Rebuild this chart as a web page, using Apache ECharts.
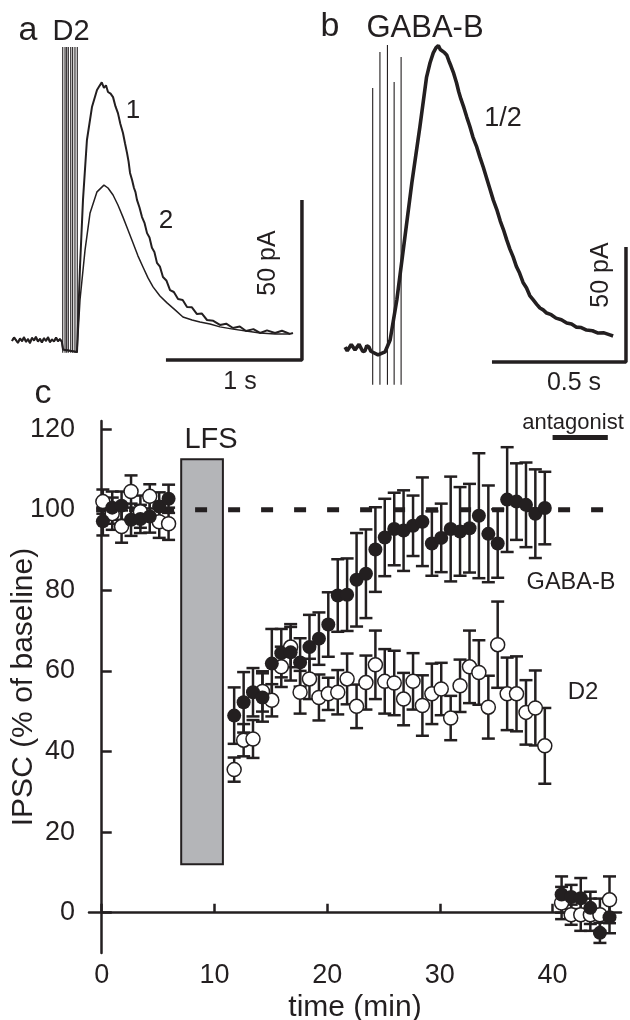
<!DOCTYPE html>
<html>
<head>
<meta charset="utf-8">
<script src="https://cdn.jsdelivr.net/npm/echarts@6/dist/echarts.min.js"></script>
<style>
html,body{margin:0;padding:0;background:#fff;}
#chart{width:630px;height:1020px;}
</style>
</head>
<body>
<div id="chart"></div>
<script>
// ---------- Panel a (D2): time (ms, stim at 0) / current (pA) ----------
const traceABaseline = [[-375,-0.3],[-360,0.8],[-346,0.2],[-331,-0.9],[-316,0.5],[-301,-0.4],[-287,0.9],[-272,-0.6],[-257,0.3],[-243,-1.0],[-228,0.7],[-213,-0.2],[-199,1.0],[-184,-0.5],[-169,0.4],[-155,-0.8],[-140,0.6],[-125,-0.3],[-110,0.9],[-96,-0.7],[-81,0.2],[-66,-0.5],[-51,0.8],[-37,-0.4],[-22,0.3],[-8,-0.6],[0,-3]];
const traceA1 = [[103,-3.75],[125,22.8],[147,43.8],[176,62.5],[213,72.8],[250,78.1],[270,79.5],[285,80.5],[301,78.8],[316,79.6],[331,77.5],[350,77.0],[368,75.9],[386,73.0],[404,70.9],[422,67.5],[441,64.7],[456,61.5],[471,58.4],[482,55.8],[493,52.2],[508,50.0],[522,47.5],[533,46.2],[544,43.8],[562,41.5],[581,38.4],[600,36.5],[618,33.4],[636,32.0],[654,28.8],[672,27.5],[691,24.1],[713,22.9],[735,19.7],[760,18.6],[787,15.6],[815,15.0],[846,12.8],[880,12.5],[912,10.3],[948,10.2],[985,8.1],[1020,8.3],[1059,6.25],[1105,6.0],[1154,4.7],[1200,5.1],[1250,3.75],[1300,4.2],[1346,2.8],[1400,3.4],[1449,2.2],[1500,3.0],[1559,2.2],[1610,2.9],[1669,1.9],[1691,2.2]];
const traceA2 = [[103,-3.75],[125,12.5],[162,28.1],[199,39.7],[250,46.3],[301,48.4],[331,47.5],[368,45.3],[404,42.2],[441,38.4],[478,34.4],[515,30.3],[551,26.3],[588,22.8],[625,19.4],[662,16.6],[713,13.75],[765,11.6],[824,9.4],[882,7.2],[949,6.25],[1007,5.6],[1081,5.0],[1154,4.1],[1250,3.4],[1346,2.8],[1449,2.2],[1559,1.9],[1669,1.9]];
const artifactATimes = [-2,15,27,39,57,71,88,105];
const artifactATop = 91.6, artifactABottom = -4;
const scaleA = [[1757,43.75],[1757,-6.25],[757,-6.25]];   // 50 pA, 1 s

// ---------- Panel b (GABA-B) ----------
const traceB = [[-103,0.4],[-95,-1.2],[-88,-0.9],[-80,1.5],[-73,1.3],[-66,-0.8],[-59,-0.4],[-51,1.6],[-44,0.9],[-37,-1.5],[-29,-1.3],[-22,1.0],[-14,0.4],[-7,-1.4],[-3,-0.9],[20,-3.0],[46,-1.7],[65,3.5],[90,20.9],[114,42.6],[146,71.7],[176,96.1],[201,117.8],[214,124.0],[226,128.3],[236,130.5],[245,131.5],[252,129.8],[259,130.6],[268,128.4],[276,127.4],[284,124.9],[292,122.6],[302,119.5],[313,115.2],[321,111.4],[329,108.3],[340,104.6],[351,100.4],[362,96.5],[374,91.7],[387,87.8],[400,83.0],[413,78.5],[426,73.5],[438,68.9],[450,64.3],[463,60.2],[476,55.2],[488,51.4],[500,47.0],[512,43.0],[524,39.6],[536,35.5],[548,32.6],[561,28.5],[574,26.1],[586,22.8],[599,20.9],[612,19.0],[624,17.4],[636,16.6],[649,15.2],[666,14.5],[684,13.0],[704,12.3],[724,10.9],[742,10.4],[759,9.1],[778,8.9],[798,7.8],[820,7.5],[841,6.5],[863,6.6],[885,5.7],[897,5.2]];
const artifactBTimes = [0,27,55,80,106];
const artifactBTops = [113,128.7,131.7,115.7,126.5];
const artifactBBottom = -16;
const scaleB = [[945,43.9],[945,-6.1],[445,-6.1]];   // 50 pA, 0.5 s

// ---------- Panel c: IPSC (% of baseline) vs time (min) ----------
const baseTimes = [0.1,0.93,1.76,2.6,3.43,4.26,5.1,5.93];
const gabaBase = [97.1,100.5,101.0,97.5,97.7,98.3,100.8,102.7];
const gabaBaseErr = [3.5,4,3.5,4,3.5,4,3.5,3.5];
const d2Base = [102.0,99.0,95.8,104.5,99.5,103.3,97.0,96.5];
const d2BaseErr = [3,4,4,4,4,3,4,4];

const postTimes = [11.75,12.59,13.42,14.26,15.09,15.93,16.76,17.6,18.43,19.27,20.1,20.94,21.77,22.61,23.44,24.28,25.11,25.95,26.78,27.62,28.45,29.29,30.12,30.96,31.79,32.63,33.46,34.3,35.13,35.97,36.8,37.64,38.47,39.31];
const gabaPost = [48.9,52.2,54.7,53.4,61.8,64.4,64.6,62.1,65.9,68.0,71.5,78.7,78.9,82.6,84.1,90.1,93.1,95.2,94.8,96.0,97.0,91.6,93.0,95.2,94.6,95.4,98.5,94.0,91.6,102.5,102.0,101.2,99.0,100.4];
const gabaPostErr = [7,7.5,6,6,8.6,6,7,6,8,6.5,8,9,9,11.6,11,10.5,9.6,9,10,7.5,11,8,8.5,13,11,11,15.5,12,8.5,13,9.5,10.5,11,9];
const d2Post = [35.5,42.8,43.1,54.9,52.7,61.0,65.9,54.7,58.0,53.4,54.3,54.7,58.0,51.2,57.1,61.5,57.4,57.0,53.0,57.4,51.4,54.3,55.5,48.3,56.3,61.0,59.6,51.0,66.5,54.3,54.3,49.7,50.8,41.4];
const d2PostErr = [3,4,4.7,5,4,5,5,5.3,5,5.7,4,5.5,6.3,5.4,6.7,8.5,8,8,6.5,7,7.5,7.5,6.5,5.5,6.5,9,8,7.8,10.7,9,9.3,8,9.3,9.4];

const recTimes = [40.8,41.65,42.5,43.35,44.2,45.05];
const gabaRec = [4.5,3.9,3.6,1.2,-5.0,-1.1];
const gabaRecErr = [4.5,3,5,4,2.5,4];
const d2Rec = [2.4,-0.5,-0.5,-0.5,-0.5,3.2];
const d2RecErr = [4,2.5,4,4,4,5.8];

const xTicks = [0,10,20,30,40];
const yTicks = [0,20,40,60,80,100,120];
const lfsWindow = [7.05,10.75], lfsRange = [12,112.5];
const baselineLevel = 100, baselineSpan = [-0.5,44.7];
const antagonistWindow = [40,44.9], antagonistLevel = 117.9;

// ---------- build ----------
const INK = '#231f20';
const FONT = '"Liberation Sans", Arial, Helvetica, sans-serif';
const allT = baseTimes.concat(postTimes, recTimes);
const gabaV = gabaBase.concat(gabaPost, gabaRec);
const gabaE = gabaBaseErr.concat(gabaPostErr, gabaRecErr);
const d2V = d2Base.concat(d2Post, d2Rec);
const d2E = d2BaseErr.concat(d2PostErr, d2RecErr);
const gabaData = allT.map((t,i)=>[t,gabaV[i],gabaE[i]]);
const d2Data = allT.map((t,i)=>[t,d2V[i],d2E[i]]);

function errRender(params, api){
  const x = api.value(0), y = api.value(1), e = api.value(2);
  const top = api.coord([x, y+e]), bot = api.coord([x, y-e]);
  const hw = 6.5, st = {stroke: INK, lineWidth: 2.5};
  return {type:'group', children:[
    {type:'line', shape:{x1:top[0],y1:top[1],x2:bot[0],y2:bot[1]}, style:st},
    {type:'line', shape:{x1:top[0]-hw,y1:top[1],x2:top[0]+hw,y2:top[1]}, style:st},
    {type:'line', shape:{x1:bot[0]-hw,y1:bot[1],x2:bot[0]+hw,y2:bot[1]}, style:st}
  ]};
}
function artRender(params, api){
  const x = api.value(0);
  const a = api.coord([x, api.value(1)]), b = api.coord([x, api.value(2)]);
  return {type:'line', shape:{x1:a[0],y1:a[1],x2:b[0],y2:b[1]}, style:{stroke:INK, lineWidth:1.1}};
}
function rectRender(params, api){
  const p1 = api.coord([api.value(0), api.value(3)]);
  const p2 = api.coord([api.value(1), api.value(2)]);
  return {type:'rect', shape:{x:p1[0], y:p1[1], width:p2[0]-p1[0], height:p2[1]-p1[1]},
    style:{fill:'#b4b5b8', stroke:INK, lineWidth:2}};
}
const hiddenAxis = (min,max,gi)=>({type:'value', gridIndex:gi, min, max, show:false, splitLine:{show:false}});
const lineS = (data, xi, w, extra)=>Object.assign({type:'line', xAxisIndex:xi, yAxisIndex:xi, data, symbol:'none',
  lineStyle:{color:INK, width:w}, silent:true, animation:false}, extra||{});

const chart = echarts.init(document.getElementById('chart'), null, {renderer:'canvas'});
const txt = (text, x, y, size, extra)=>Object.assign({type:'text', x, y,
  style:{text, font: size+'px '+FONT, fill: INK, textAlign:'center', textVerticalAlign:'middle'}}, extra||{});

chart.setOption({
  animation:false,
  backgroundColor:'#fff',
  grid:[
    {left:0, top:0, width:310, height:400, containLabel:false, outerBoundsMode:'none'},
    {left:320, top:0, width:310, height:400, containLabel:false, outerBoundsMode:'none'},
    {left:89, top:421, width:532, height:532, containLabel:false, outerBoundsMode:'none'}
  ],
  xAxis:[
    hiddenAxis(-463.2,1816.2,0),
    hiddenAxis(-196.6,960.0,1),
    {type:'value', gridIndex:2, min:-1.13, max:46.07, splitLine:{show:false},
     axisLine:{lineStyle:{color:INK, width:2.5}},
     axisTick:{inside:true, length:9, lineStyle:{color:INK, width:2.5}, customValues:xTicks},
     axisLabel:{customValues:xTicks, color:INK, fontSize:27, fontFamily:FONT, margin:9},
     name:'time (min)', nameLocation:'middle', nameGap:40, nameMoveOverlap:false,
     nameTextStyle:{color:INK, fontSize:30, fontFamily:FONT}}
  ],
  yAxis:[
    hiddenAxis(-18.75,106.25,0),
    hiddenAxis(-22.6,151.3,1),
    {type:'value', gridIndex:2, min:-10, max:122, splitLine:{show:false},
     axisLine:{lineStyle:{color:INK, width:2.5}},
     axisTick:{inside:true, length:10, lineStyle:{color:INK, width:2.5}, customValues:yTicks},
     axisLabel:{customValues:yTicks, color:INK, fontSize:27, fontFamily:FONT, margin:14},
     name:'IPSC (% of baseline)', nameLocation:'middle', nameGap:50, nameRotate:90, nameMoveOverlap:false,
     nameTextStyle:{color:INK, fontSize:30, fontFamily:FONT}}
  ],
  series:[
    // panel a
    lineS(traceABaseline.concat(traceA2), 0, 1.5),
    lineS(traceABaseline.concat(traceA1), 0, 2),
    {type:'custom', xAxisIndex:0, yAxisIndex:0, renderItem:artRender, silent:true,
     data: artifactATimes.map(t=>[t, artifactATop, artifactABottom]), encode:{x:0,y:[1,2]}},
    lineS(scaleA, 0, 3.5),
    // panel b
    lineS(traceB, 1, 3.6),
    {type:'custom', xAxisIndex:1, yAxisIndex:1, renderItem:artRender, silent:true,
     data: artifactBTimes.map((t,i)=>[t, artifactBTops[i], artifactBBottom]), encode:{x:0,y:[1,2]}},
    lineS(scaleB, 1, 3.5),
    // panel c
    {type:'custom', xAxisIndex:2, yAxisIndex:2, renderItem:rectRender, silent:true, z:1,
     data:[[lfsWindow[0], lfsWindow[1], lfsRange[0], lfsRange[1]]], encode:{x:[0,1], y:[2,3]}},
    lineS([[baselineSpan[0],baselineLevel],[baselineSpan[1],baselineLevel]], 2, 5, {z:2,
      lineStyle:{color:INK, width:5, type:[12,21]}}),
    lineS([[antagonistWindow[0],antagonistLevel],[antagonistWindow[1],antagonistLevel]], 2, 5, {z:2}),
    {type:'custom', xAxisIndex:2, yAxisIndex:2, renderItem:errRender, silent:true, z:3,
     data:d2Data, encode:{x:0, y:1}},
    {type:'custom', xAxisIndex:2, yAxisIndex:2, renderItem:errRender, silent:true, z:3,
     data:gabaData, encode:{x:0, y:1}},
    {type:'scatter', name:'D2', xAxisIndex:2, yAxisIndex:2, z:4, symbol:'circle', symbolSize:14,
     data:d2Data.map(d=>[d[0],d[1]]), itemStyle:{color:'#fff', borderColor:INK, borderWidth:1.5, opacity:1}},
    {type:'scatter', name:'GABA-B', xAxisIndex:2, yAxisIndex:2, z:5, symbol:'circle', symbolSize:14,
     data:gabaData.map(d=>[d[0],d[1]]), itemStyle:{color:INK, opacity:1}}
  ],
  graphic:[
    txt('a', 28, 31, 34),
    txt('D2', 71, 32, 29),
    txt('1', 133, 111, 26),
    txt('2', 166, 221, 26),
    txt('50 pA', 268, 263, 25, {rotation:Math.PI/2}),
    txt('1 s', 240, 382, 25),
    txt('b', 330, 27, 34),
    txt('GABA-B', 425, 28, 31),
    txt('1/2', 503, 119, 27),
    txt('50 pA', 601, 275, 25, {rotation:Math.PI/2}),
    txt('0.5 s', 574, 383, 25),
    txt('c', 43, 394, 34),
    txt('LFS', 211, 440, 29),
    txt('antagonist', 573, 423, 22),
    txt('GABA-B', 571, 583, 23.5),
    txt('D2', 583, 692, 24)
  ]
});
</script>
</body>
</html>
